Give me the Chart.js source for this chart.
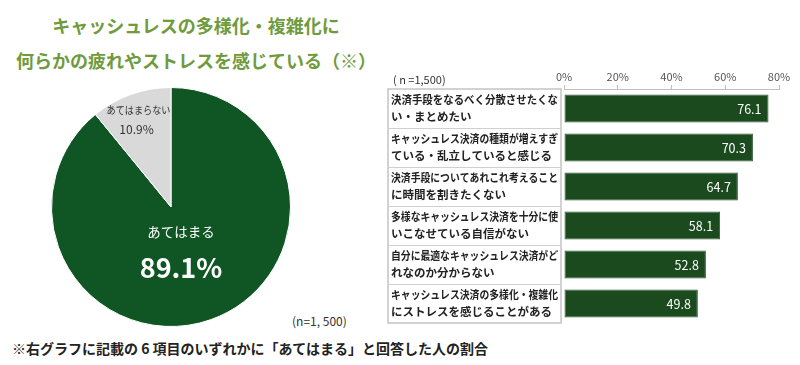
<!DOCTYPE html>
<html lang="ja">
<head>
<meta charset="utf-8">
<script src="https://cdn.jsdelivr.net/npm/chart.js@4.4.1/dist/chart.umd.min.js"></script>
<style>
  body { margin: 0; background: #fff; font-family: "Noto Sans CJK JP", sans-serif; }
  #wrap { position: relative; width: 800px; height: 365px; overflow: hidden; }
  .title { position: absolute; left: 0; width: 392px; text-align: center; color: #6f9b3c; font-weight: bold; font-size: 18px; line-height: 20px; }
  #pieBox { position: absolute; left: 51px; top: 87px; width: 240px; height: 240px; }
  #barBox { position: absolute; left: 380px; top: 60px; width: 420px; height: 275px; }
  .note { position: absolute; color: #333; }
</style>
</head>
<body>
<div id="wrap">
  <div class="title" style="top:15px">キャッシュレスの多様化・複雑化に</div>
  <div class="title" style="top:50px">何らかの疲れやストレスを感じている（※）</div>
  <div id="pieBox"><canvas id="pieChart"></canvas></div>
  <div id="barBox"><canvas id="barChart"></canvas></div>
  <div class="note" style="left:292px; top:312px; font-size:12px;">(n=1, 500)</div>
  <div class="note" style="left:393px; top:71px; font-size:11px;">( n =1,500)</div>
  <div class="note" style="left:12px; top:338px; font-size:14px; font-weight:bold; color:#222;">※右グラフに記載の 6 項目のいずれかに「あてはまる」と回答した人の割合</div>
</div>
<script>
const pieLabels = ['あてはまる', 'あてはまらない'];
const pieValues = [89.1, 10.9];
const pieColors = ['#0f5624', '#d9d9d9'];

const barLabels = [
    ['決済手段をなるべく分散させたくな', 'い・まとめたい'],
    ['キャッシュレス決済の種類が増えすぎ', 'ている・乱立していると感じる'],
    ['決済手段についてあれこれ考えること', 'に時間を割きたくない'],
    ['多様なキャッシュレス決済を十分に使', 'いこなせている自信がない'],
    ['自分に最適なキャッシュレス決済がど', 'れなのか分からない'],
    ['キャッシュレス決済の多様化・複雑化', 'にストレスを感じることがある']
];
const barValues = [76.1, 70.3, 64.7, 58.1, 52.8, 49.8];
const axisTicks = [0, 20, 40, 60, 80];

const FONT = '"Noto Sans CJK JP", sans-serif';

// pie labels
const pieText = {
    id: 'pieText',
    afterDatasetsDraw(chart) {
        const ctx = chart.ctx;
        const arcs = chart.getDatasetMeta(0).data;
        const big = arcs[0], small = arcs[1];
        ctx.save();
        ctx.textAlign = 'center';
        ctx.textBaseline = 'middle';
        ctx.fillStyle = '#fff';
        ctx.font = '13.5px ' + FONT;
        ctx.fillText(pieLabels[0], big.x + 10, big.y + 25);
        ctx.font = 'bold 27px ' + FONT;
        ctx.fillText(pieValues[0].toFixed(1) + '%', big.x + 10, big.y + 61);

        const mid = (small.startAngle + small.endAngle) / 2;
        const r = small.outerRadius * 0.76;
        const px = small.x + Math.cos(mid) * r;
        const py = small.y + Math.sin(mid) * r;
        ctx.fillStyle = '#333';
        ctx.font = '10.5px ' + FONT;
        ctx.fillText(pieLabels[1], px - 2, py - 11, 64);
        ctx.font = '12px ' + FONT;
        ctx.fillText(pieValues[1].toFixed(1) + '%', px - 4, py + 8);
        ctx.restore();
    }
};

new Chart(document.getElementById('pieChart'), {
    type: 'pie',
    data: {
        labels: pieLabels,
        datasets: [{
            data: pieValues,
            backgroundColor: pieColors,
            borderColor: '#fff',
            borderWidth: 1
        }]
    },
    options: {
        responsive: true,
        maintainAspectRatio: false,
        animation: false,
        layout: { padding: 0 },
        plugins: { legend: { display: false }, tooltip: { enabled: false } }
    },
    plugins: [pieText]
});

// box around the category labels, the labels themselves, values inside bars
const labelBox = {
    id: 'labelBox',
    beforeDatasetsDraw(chart) {
        const ctx = chart.ctx;
        const y = chart.scales.y;
        const area = chart.chartArea;
        const left = y.left - 3;
        const right = area.left - 3;
        ctx.save();
        ctx.strokeStyle = '#c4c4c4';
        ctx.lineWidth = 1.5;
        ctx.strokeRect(left, area.top, right - left, area.bottom - area.top);
        const step = (area.bottom - area.top) / barValues.length;
        ctx.lineWidth = 1;
        ctx.strokeStyle = '#d0d0d0';
        for (let i = 1; i < barValues.length; i++) {
            const yy = Math.round(area.top + step * i) + 0.5;
            ctx.beginPath();
            ctx.moveTo(left, yy);
            ctx.lineTo(right, yy);
            ctx.stroke();
        }

        ctx.fillStyle = '#222';
        ctx.font = 'bold 11.5px ' + FONT;
        ctx.textAlign = 'left';
        ctx.textBaseline = 'middle';
        const maxW = right - left - 6;
        barLabels.forEach((lines, i) => {
            const cy = y.getPixelForValue(i);
            ctx.fillText(lines[0], y.left, cy - 8.5, maxW);
            ctx.fillText(lines[1], y.left, cy + 8.5, maxW);
        });
        ctx.restore();
    },
    afterDatasetsDraw(chart) {
        const ctx = chart.ctx;
        const bars = chart.getDatasetMeta(0).data;
        ctx.save();
        ctx.fillStyle = '#fff';
        ctx.font = '12.5px ' + FONT;
        ctx.textAlign = 'right';
        ctx.textBaseline = 'middle';
        bars.forEach((b, i) => {
            ctx.fillText(barValues[i].toFixed(1), b.x - 7, b.y + 1);
        });
        ctx.restore();
    }
};

new Chart(document.getElementById('barChart'), {
    type: 'bar',
    data: {
        labels: barLabels,
        datasets: [{
            data: barValues,
            backgroundColor: '#1b4a1f',
            borderColor: '#2c5c30',
            borderWidth: 1,
            borderSkipped: false,
            barPercentage: 0.72,
            categoryPercentage: 1
        }]
    },
    options: {
        indexAxis: 'y',
        responsive: true,
        maintainAspectRatio: false,
        animation: false,
        layout: { padding: { left: 11, right: 21, top: 0, bottom: 12 } },
        scales: {
            x: {
                position: 'top',
                min: axisTicks[0],
                max: axisTicks[axisTicks.length - 1],
                afterBuildTicks: (scale) => { scale.ticks = axisTicks.map(v => ({ value: v })); },
                afterFit: (scale) => { scale.height = 29; },
                ticks: {
                    callback: v => v + '%',
                    color: '#555',
                    font: { size: 11, family: FONT },
                    padding: 2,
                    maxRotation: 0
                },
                grid: { drawOnChartArea: false, tickLength: 4, color: '#bfbfbf' },
                border: { color: '#bfbfbf' }
            },
            y: {
                afterFit: (scale) => { scale.width = 173; },
                ticks: { display: false },
                grid: { display: false },
                border: { display: false }
            }
        },
        plugins: { legend: { display: false }, tooltip: { enabled: false } }
    },
    plugins: [labelBox]
});
</script>
</body>
</html>
